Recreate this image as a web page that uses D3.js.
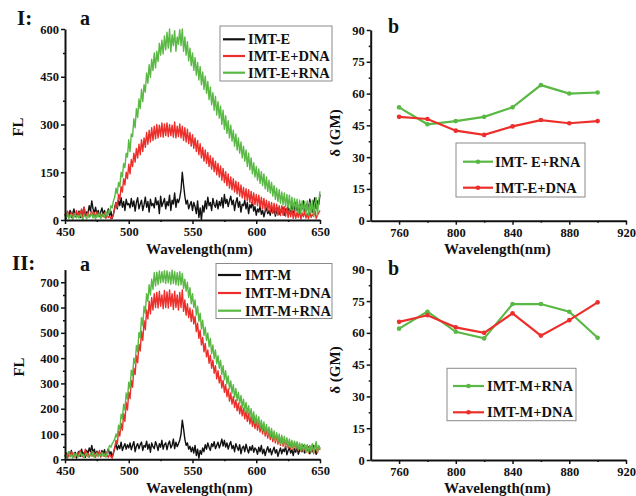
<!DOCTYPE html>
<html>
<head>
<meta charset="utf-8">
<script src="https://cdnjs.cloudflare.com/ajax/libs/d3/7.8.5/d3.min.js"></script>
<style>
  body { margin: 0; background: #fff; }
  text { font-family: 'Liberation Serif', 'Times New Roman', serif; font-weight: bold; fill: #111; }
</style>
</head>
<body>
<div id="drawer"></div>
<script>
// fluorescence spectra, one value per nm from 450 to 650
var wlStart = 450;

var E = [18, 5, 25, 12, 30, 8, 20, 35, 10, 22,
  15, 28, 8, 32, 18, 40, 12, 25, 20, 45,
  28, 60, 35, 22, 40, 18, 30, 12, 25, 38,
  15, 30, 8, 22, 35, 12, 28, 5, 18, 40,
  55, 35, 62, 45, 70, 40, 58, 30, 65, 48,
  52, 38, 68, 42, 60, 28, 55, 70, 35, 50,
  62, 30, 48, 72, 40, 58, 25, 65, 45, 52,
  38, 70, 48, 60, 20, 75, 42, 55, 68, 35,
  58, 45, 78, 30, 62, 50, 85, 40, 65, 55,
  70, 95, 150, 110, 75, 50, 62, 35, 48, 58,
  30, 55, 42, 20, 60, 8, 38, 0, 45, 25,
  60, 35, 72, 45, 55, 30, 68, 48, 40, 62,
  35, 58, 45, 70, 38, 80, 52, 65, 42, 60,
  75, 48, 62, 30, 55, 70, 40, 58, 25, 50,
  45, 62, 35, 55, 20, 48, 38, 60, 28, 42,
  15, 35, 25, 45, 18, 30, 10, 28, 38, 20,
  30, 15, 40, 22, 35, 12, 28, 38, 18, 32,
  25, 40, 15, 35, 28, 45, 20, 32, 48, 22,
  38, 55, 30, 42, 20, 50, 35, 60, 28, 45,
  52, 30, 65, 40, 25, 55, 70, 35, 60, 48,
  80];

var E_DNA = [20, 12, 28, 8, 18, 25, 10, 22, 15, 30,
  12, 24, 18, 35, 10, 40, 20, 14, 26, 9,
  18, 28, 12, 22, 8, 25, 15, 20, 6, 18,
  10, 22, 5, 15, 8, 12, 3, 8, 20, 35,
  55, 40, 80, 65, 105, 88, 130, 110, 150, 130,
  175, 145, 190, 168, 210, 182, 225, 195, 238, 205,
  252, 215, 258, 228, 275, 238, 282, 245, 290, 250,
  295, 255, 300, 258, 298, 262, 305, 260, 302, 265,
  305, 262, 300, 265, 298, 260, 308, 258, 295, 262,
  302, 258, 295, 250, 290, 245, 285, 240, 275, 232,
  268, 225, 258, 215, 250, 205, 240, 195, 228, 185,
  220, 178, 212, 168, 202, 160, 195, 152, 185, 142,
  178, 135, 170, 125, 162, 118, 152, 108, 145, 100,
  135, 95, 130, 88, 122, 82, 118, 75, 110, 70,
  102, 65, 98, 60, 95, 55, 90, 52, 85, 48,
  80, 45, 78, 40, 72, 35, 68, 32, 62, 28,
  58, 25, 55, 22, 52, 18, 50, 15, 45, 14,
  45, 15, 42, 12, 38, 8, 35, 10, 32, 5,
  28, 5, 25, 8, 30, 3, 22, 10, 28, 6,
  20, 4, 25, 8, 18, 12, 30, 5, 15, 22,
  30];

var E_RNA = [15, 8, 22, 5, 12, 18, 3, 10, 20, 7,
  14, 6, 18, 9, 2, 16, 11, 4, 19, 8,
  12, 21, 6, 15, 3, 17, 9, 24, 5, 13,
  18, 8, 26, 12, 30, 22, 45, 38, 60, 72,
  100, 82, 118, 105, 150, 135, 178, 165, 210, 198,
  252, 215, 270, 262, 318, 290, 350, 322, 380, 350,
  410, 372, 425, 402, 462, 430, 488, 448, 505, 470,
  525, 478, 530, 498, 555, 518, 565, 522, 578, 535,
  590, 540, 600, 528, 582, 548, 595, 530, 575, 552,
  598, 548, 600, 530, 575, 518, 560, 500, 540, 485,
  525, 470, 510, 455, 495, 440, 482, 425, 465, 410,
  452, 398, 435, 378, 418, 362, 400, 345, 388, 330,
  372, 320, 358, 300, 345, 285, 328, 272, 312, 258,
  298, 248, 282, 232, 270, 220, 258, 210, 245, 195,
  232, 185, 220, 168, 210, 158, 195, 145, 180, 135,
  168, 125, 160, 115, 152, 108, 145, 98, 135, 90,
  125, 85, 118, 75, 108, 65, 100, 58, 95, 52,
  88, 48, 85, 42, 80, 38, 78, 32, 72, 30,
  68, 28, 65, 22, 62, 20, 60, 25, 58, 18,
  60, 15, 55, 22, 62, 10, 52, 70, 15, 58,
  90];

var M = [12, 25, 8, 30, 15, 35, 10, 22, 28, 5,
  20, 32, 12, 40, 18, 28, 8, 35, 22, 45,
  30, 55, 25, 40, 15, 32, 20, 28, 10, 35,
  22, 38, 12, 28, 42, 18, 30, 8, 25, 45,
  60, 38, 55, 42, 68, 35, 50, 62, 40, 58,
  45, 65, 38, 55, 70, 30, 52, 62, 42, 58,
  68, 35, 55, 48, 72, 40, 60, 28, 65, 50,
  42, 70, 55, 35, 62, 48, 75, 40, 58, 65,
  38, 60, 72, 45, 55, 80, 42, 68, 50, 62,
  75, 100, 155, 120, 80, 55, 65, 40, 52, 30,
  48, 25, 55, 15, 40, 5, 35, 20, 45, 30,
  58, 40, 65, 48, 35, 62, 50, 70, 42, 55,
  68, 45, 60, 80, 52, 75, 48, 65, 40, 58,
  70, 42, 55, 30, 62, 48, 35, 58, 22, 45,
  52, 30, 60, 40, 25, 50, 35, 55, 28, 45,
  38, 20, 48, 30, 55, 22, 40, 15, 35, 50,
  28, 42, 18, 35, 48, 25, 38, 12, 30, 45,
  22, 40, 30, 52, 18, 35, 45, 25, 38, 15,
  42, 28, 50, 20, 35, 48, 30, 55, 25, 40,
  35, 50, 22, 45, 30, 55, 38, 20, 42, 50,
  45];

var M_DNA = [10, 20, 5, 25, 12, 30, 18, 8, 22, 15,
  28, 12, 35, 18, 10, 22, 40, 15, 25, 8,
  18, 30, 12, 22, 8, 28, 15, 35, 10, 20,
  25, 12, 30, 15, 8, 20, 10, 5, 28, 45,
  75, 60, 112, 92, 142, 115, 180, 150, 225, 195,
  265, 240, 312, 285, 360, 335, 410, 382, 455, 428,
  505, 470, 548, 512, 590, 555, 625, 575, 640, 590,
  655, 600, 660, 598, 665, 605, 650, 595, 668, 600,
  662, 598, 670, 605, 655, 592, 665, 600, 650, 590,
  660, 600, 670, 585, 630, 570, 615, 560, 598, 545,
  590, 535, 565, 505, 538, 478, 510, 452, 482, 425,
  458, 405, 432, 380, 412, 360, 392, 340, 370, 318,
  350, 302, 330, 282, 312, 265, 295, 248, 278, 230,
  262, 218, 248, 205, 235, 192, 222, 180, 212, 172,
  202, 160, 192, 150, 182, 140, 170, 130, 162, 122,
  155, 115, 148, 108, 140, 100, 132, 92, 122, 84,
  115, 78, 108, 70, 102, 65, 96, 60, 90, 55,
  88, 52, 82, 48, 78, 45, 72, 40, 68, 38,
  68, 38, 65, 35, 60, 32, 58, 30, 55, 28,
  55, 25, 52, 30, 58, 22, 48, 62, 25, 50,
  37];

var M_RNA = [15, 8, 22, 30, 10, 18, 5, 25, 12, 20,
  8, 16, 28, 12, 20, 6, 18, 24, 10, 15,
  22, 12, 30, 8, 18, 25, 10, 20, 14, 28,
  12, 20, 8, 25, 40, 55, 48, 62, 70, 80,
  100, 85, 135, 118, 178, 160, 218, 195, 262, 238,
  305, 280, 352, 330, 400, 378, 450, 425, 502, 480,
  560, 528, 605, 578, 655, 625, 690, 650, 712, 672,
  738, 685, 740, 690, 745, 698, 742, 700, 746, 695,
  745, 698, 740, 692, 748, 695, 742, 690, 738, 688,
  742, 690, 735, 675, 712, 665, 700, 640, 678, 615,
  655, 600, 630, 570, 605, 545, 578, 515, 550, 490,
  522, 470, 500, 445, 478, 418, 452, 398, 432, 378,
  410, 360, 392, 335, 370, 315, 350, 298, 330, 278,
  310, 262, 295, 245, 280, 232, 265, 220, 252, 205,
  238, 192, 225, 180, 212, 168, 200, 155, 188, 142,
  175, 135, 168, 125, 155, 115, 148, 105, 138, 98,
  128, 90, 122, 82, 112, 75, 105, 70, 100, 62,
  95, 60, 90, 55, 85, 52, 80, 48, 75, 42,
  72, 42, 70, 38, 65, 35, 62, 32, 60, 30,
  58, 28, 55, 30, 62, 25, 50, 70, 28, 55,
  40];

// two-photon cross sections (GM)
var tpaWl = [760, 780, 800, 820, 840, 860, 880, 900];
var E_RNA_GM = [53.5, 45.5, 47, 49, 53.5, 64, 60, 60.5];
var E_DNA_GM = [49, 48, 42.5, 40.5, 44.5, 47.5, 46, 47];
var M_RNA_GM = [62, 70, 60.5, 57.4, 73.6, 73.6, 70, 57.7];
var M_DNA_GM = [65.2, 68.3, 62.6, 60, 69.2, 58.7, 66, 74.4];

var specLabelsE = ["IMT-E", "IMT-E+DNA", "IMT-E+RNA"];
var specLabelsM = ["IMT-M", "IMT-M+DNA", "IMT-M+RNA"];
var gmLabelsE = ["IMT- E+RNA", "IMT-E+DNA"];
var gmLabelsM = ["IMT-M+RNA", "IMT-M+DNA"];

var specTicks = [450, 500, 550, 600, 650];
var gmXTicks = [760, 800, 840, 880, 920];
var gmYTicks = [0, 15, 30, 45, 60, 75, 90];

var black = "#111111", red = "#ec2f2b", green = "#5ab845";

var svg = d3.select("#drawer").append("svg")
  .attr("width", 636)
  .attr("height", 496);

function drawAxes(x, y, xTicks, xMinor, yTicks, yMinor) {
  var gx = svg.append("g")
    .attr("transform", "translate(0," + y.range()[0] + ")")
    .call(d3.axisBottom(x).tickValues(xTicks).tickSize(4).tickSizeOuter(0).tickPadding(3));
  svg.append("g")
    .attr("transform", "translate(0," + y.range()[0] + ")")
    .call(d3.axisBottom(x).tickValues(xMinor).tickSize(2).tickSizeOuter(0).tickFormat(""))
    .select(".domain").remove();
  var gy = svg.append("g")
    .attr("transform", "translate(" + x.range()[0] + ",0)")
    .call(d3.axisLeft(y).tickValues(yTicks).tickSize(4).tickSizeOuter(0).tickPadding(2));
  svg.append("g")
    .attr("transform", "translate(" + x.range()[0] + ",0)")
    .call(d3.axisLeft(y).tickValues(yMinor).tickSize(2).tickSizeOuter(0).tickFormat(""))
    .select(".domain").remove();

  [gx, gy].forEach(function(g) {
    g.select(".domain").attr("stroke", black).attr("stroke-width", 2);
    g.selectAll("text")
      .attr("font-family", null)
      .style("font-size", "12.5px")
      .style("font-weight", "bold");
  });
  svg.selectAll("g line").attr("stroke", black).attr("stroke-width", 1.5);
}

function drawSpectra(series, colors, x, y) {
  var line = d3.line()
    .x(function(d, i) { return x(wlStart + i); })
    .y(function(d) { return y(d); });
  series.forEach(function(s, k) {
    svg.append("path")
      .datum(s)
      .attr("d", line)
      .attr("fill", "none")
      .attr("stroke", colors[k])
      .attr("stroke-width", 1.4)
      .attr("stroke-linejoin", "round");
  });
}

function drawGM(series, colors, x, y) {
  var line = d3.line()
    .x(function(d, i) { return x(tpaWl[i]); })
    .y(function(d) { return y(d); });
  series.forEach(function(s, k) {
    svg.append("path")
      .datum(s)
      .attr("d", line)
      .attr("fill", "none")
      .attr("stroke", colors[k])
      .attr("stroke-width", 2.2);
    svg.selectAll(null)
      .data(s)
      .enter()
      .append("circle")
      .attr("cx", function(d, i) { return x(tpaWl[i]); })
      .attr("cy", function(d) { return y(d); })
      .attr("r", 2.3)
      .attr("fill", colors[k]);
  });
}

function legend(box, labels, colors, rows, lineX, textX, marker) {
  svg.append("rect")
    .attr("x", box[0]).attr("y", box[1])
    .attr("width", box[2] - box[0]).attr("height", box[3] - box[1])
    .attr("fill", "#fff")
    .attr("stroke", "#8a8a8a")
    .attr("stroke-width", 1);
  labels.forEach(function(lab, k) {
    svg.append("line")
      .attr("x1", lineX[0]).attr("x2", lineX[1])
      .attr("y1", rows[k]).attr("y2", rows[k])
      .attr("stroke", colors[k])
      .attr("stroke-width", 2.2);
    if (marker) {
      svg.append("circle")
        .attr("cx", (lineX[0] + lineX[1]) / 2).attr("cy", rows[k])
        .attr("r", 2.3).attr("fill", colors[k]);
    }
    svg.append("text")
      .attr("x", textX).attr("y", rows[k] + 5)
      .style("font-size", "14.5px")
      .text(lab);
  });
}

function label(txt, x, y, size, rotate) {
  var t = svg.append("text")
    .style("font-size", size + "px")
    .text(txt);
  if (rotate) {
    t.attr("text-anchor", "middle")
      .attr("transform", "translate(" + x + "," + y + ") rotate(-90)");
  } else {
    t.attr("x", x).attr("y", y);
  }
  return t;
}

// ---- panel I a
var xE = d3.scaleLinear().domain([450, 650]).range([65, 320]);
var yE = d3.scaleLinear().domain([0, 600]).range([220, 29]);
drawSpectra([E, E_DNA, E_RNA], [black, red, green], xE, yE);
drawAxes(xE, yE, specTicks, d3.range(475, 650, 50), d3.range(0, 601, 150), d3.range(75, 600, 150));
legend([220, 26, 332, 81], specLabelsE, [black, red, green], [39.3, 56, 72.7], [223, 245], 248, false);

// ---- panel I b
var xEb = d3.scaleLinear().domain([740, 920]).range([370.7, 626]);
var yEb = d3.scaleLinear().domain([0, 90]).range([220.7, 30]);
drawGM([E_RNA_GM, E_DNA_GM], [green, red], xEb, yEb);
drawAxes(xEb, yEb, gmXTicks, d3.range(780, 920, 40), gmYTicks, d3.range(7.5, 90, 15));
legend([456, 143, 585, 197], gmLabelsE, [green, red], [161.7, 187.7], [463, 493], 495, true);

// ---- panel II a
var xM = d3.scaleLinear().domain([450, 650]).range([65, 320]);
var yM = d3.scaleLinear().domain([0, 750]).range([459.3, 269.6]);
drawSpectra([M, M_DNA, M_RNA], [black, red, green], xM, yM);
drawAxes(xM, yM, specTicks, d3.range(475, 650, 50), d3.range(0, 701, 100), d3.range(50, 750, 100));
legend([216, 263.5, 332, 318.5], specLabelsM, [black, red, green], [275, 293, 310.7], [218, 241], 245, false);

// ---- panel II b
var xMb = d3.scaleLinear().domain([740, 920]).range([370.7, 626]);
var yMb = d3.scaleLinear().domain([0, 90]).range([460, 269.3]);
drawGM([M_RNA_GM, M_DNA_GM], [green, red], xMb, yMb);
drawAxes(xMb, yMb, gmXTicks, d3.range(780, 920, 40), gmYTicks, d3.range(7.5, 90, 15));
legend([447, 368.3, 576, 420.7], gmLabelsM, [green, red], [386, 412.3], [453, 484], 487, true);

// titles and panel letters
label("Wavelength(nm)", 146, 254, 15);
label("Wavelength(nm)", 444, 254, 15);
label("Wavelength(nm)", 146, 493, 15);
label("Wavelength(nm)", 444, 493, 15);
label("FL", 23, 127, 15, true);
label("FL", 24, 367, 15, true);
label("\u03b4 (GM)", 340, 133, 15, true);
label("\u03b4 (GM)", 340, 370, 15, true);
label("I:", 17, 25, 21);
label("a", 80, 25, 20);
label("b", 388, 33, 20);
label("II:", 12, 270, 21);
label("a", 80, 271, 20);
label("b", 388, 275, 20);
</script>
</body>
</html>
